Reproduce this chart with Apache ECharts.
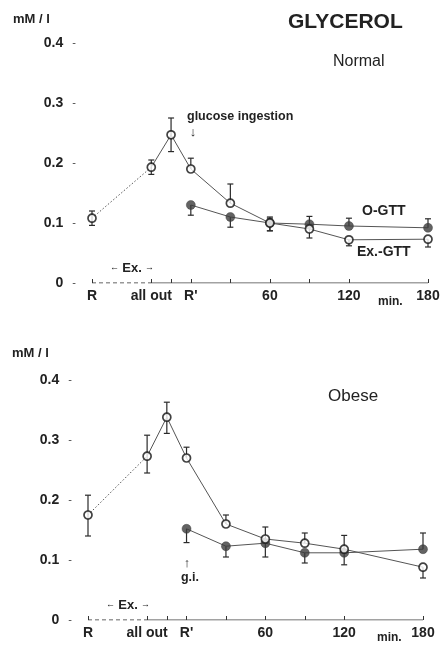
<!DOCTYPE html>
<html>
<head>
<meta charset="utf-8">
<script src="https://cdn.jsdelivr.net/npm/echarts@6/dist/echarts.min.js"></script>
<style>
html,body{margin:0;padding:0;background:#fff;}
#c{width:444px;height:646px;}
</style>
</head>
<body>
<div id="c"></div>
<script>
// ---- data ----
// time points in minutes relative to R' (R, all out, peak, R', 30, 60, 90, 120, 180)
const exMinutes = [-75, -30, -15, 0, 30, 60, 90, 120, 180];
const gttMinutes = [0, 30, 60, 90, 120, 180];

// Normal: Ex.-GTT (open circles)
const normalEx      = [0.108, 0.193, 0.247, 0.190, 0.133, 0.100, 0.090, 0.072, 0.073];
const normalExUp    = [0.012, 0.012, 0.028, 0.018, 0.032, 0.010, 0.000, 0.000, 0.000];
const normalExDown  = [0.012, 0.012, 0.028, 0.000, 0.000, 0.013, 0.015, 0.010, 0.013];
// Normal: O-GTT (filled circles)
const normalO       = [0.130, 0.110, 0.100, 0.098, 0.095, 0.092];
const normalOUp     = [0.000, 0.000, 0.008, 0.013, 0.013, 0.015];
const normalODown   = [0.017, 0.017, 0.013, 0.000, 0.000, 0.000];

// Obese: Ex.-GTT (open circles)
const obeseEx       = [0.175, 0.273, 0.338, 0.270, 0.160, 0.135, 0.128, 0.118, 0.088];
const obeseExUp     = [0.033, 0.035, 0.025, 0.018, 0.015, 0.020, 0.017, 0.023, 0.000];
const obeseExDown   = [0.035, 0.028, 0.027, 0.000, 0.000, 0.000, 0.000, 0.000, 0.018];
// Obese: O-GTT (filled circles)
const obeseO        = [0.152, 0.123, 0.128, 0.112, 0.112, 0.118];
const obeseOUp      = [0.000, 0.000, 0.000, 0.000, 0.000, 0.027];
const obeseODown    = [0.023, 0.018, 0.023, 0.017, 0.020, 0.000];

// axis ticks / labels
const xTickValues  = [-75, -30, -15, 0, 30, 60, 90, 120, 180];
const xLabelValues = [-75, -30, 0, 60, 120, 180];
const xLabelTexts  = ['R', 'all out', "R'", '60', '120', '180'];
const exercisePhase = [-75, -30];   // dashed part of the time axis
const postPhase     = [-30, 180];   // solid part of the time axis
const yTicks = [0, 0.1, 0.2, 0.3, 0.4];

// ---- helpers ----
const FONT = '"Liberation Sans", Arial, sans-serif';
const zip = (xs, ys) => xs.map((x, i) => [x, ys[i]]);
const errData = (xs, ys, up, down) => xs.map((x, i) => [x, ys[i], up[i], down[i]]);

function errRender(params, api) {
  const x = api.value(0), y = api.value(1), up = api.value(2), dn = api.value(3);
  const pTop = api.coord([x, y + up]);
  const pBot = api.coord([x, y - dn]);
  const cap = 3;
  const st = {stroke: '#2a2a2a', lineWidth: 1.2};
  const children = [{type: 'line', shape: {x1: pTop[0], y1: pTop[1], x2: pBot[0], y2: pBot[1]}, style: st}];
  if (up > 0) children.push({type: 'line', shape: {x1: pTop[0]-cap, y1: pTop[1], x2: pTop[0]+cap, y2: pTop[1]}, style: st});
  if (dn > 0) children.push({type: 'line', shape: {x1: pBot[0]-cap, y1: pBot[1], x2: pBot[0]+cap, y2: pBot[1]}, style: st});
  return {type: 'group', children};
}

function panelSeries(idx, ex, exUp, exDown, o, oUp, oDown) {
  const ax = {xAxisIndex: idx, yAxisIndex: idx};
  const exPts = zip(exMinutes, ex);
  return [
    Object.assign({type: 'line', data: exercisePhase.map(v => [v, 0]), symbol: 'none', silent: true,
      lineStyle: {color: '#333', width: 1.2, type: [4, 3]}}, ax),
    Object.assign({type: 'line', data: postPhase.map(v => [v, 0]), symbol: 'none', silent: true,
      lineStyle: {color: '#444', width: 1}}, ax),
    Object.assign({type: 'line', data: exPts.slice(0, 2), symbol: 'none',
      lineStyle: {color: '#555', width: 1, type: [1.5, 2]}}, ax),
    Object.assign({type: 'line', data: exPts.slice(1), symbol: 'none',
      lineStyle: {color: '#555', width: 1}}, ax),
    Object.assign({type: 'line', data: zip(gttMinutes, o), symbol: 'none',
      lineStyle: {color: '#555', width: 1}}, ax),
    Object.assign({type: 'custom', renderItem: errRender, data: errData(gttMinutes, o, oUp, oDown), z: 3}, ax),
    Object.assign({type: 'custom', renderItem: errRender, data: errData(exMinutes, ex, exUp, exDown), z: 3}, ax),
    Object.assign({type: 'scatter', data: zip(gttMinutes, o), symbol: 'circle', symbolSize: 9, z: 4,
      itemStyle: {color: '#3c3c3c', borderColor: '#333', borderWidth: 0.5}}, ax),
    Object.assign({type: 'scatter', data: exPts, symbol: 'circle', symbolSize: 8, z: 5,
      itemStyle: {color: '#fff', borderColor: '#111', borderWidth: 1.7}}, ax)
  ];
}

function xAxisCfg(idx) {
  return {
    type: 'value', gridIndex: idx, min: -75, max: 180,
    axisLine: {show: false},
    splitLine: {show: false},
    axisTick: {show: true, inside: true, length: 4, customValues: xTickValues, lineStyle: {color: '#333', width: 1}},
    axisLabel: {
      show: true, customValues: xLabelValues, margin: 6,
      formatter: v => xLabelTexts[xLabelValues.indexOf(v)] || '',
      fontFamily: FONT, fontWeight: 'bold', fontSize: 14, color: '#222'
    }
  };
}
function yAxisCfg(idx) {
  return {
    type: 'value', gridIndex: idx, min: yTicks[0], max: yTicks[yTicks.length-1], interval: 0.1,
    axisLine: {show: false}, axisTick: {show: false}, splitLine: {show: false},
    axisLabel: {
      margin: 16,
      formatter: v => '{n|' + (v === 0 ? '0' : v.toFixed(1)) + '}{d|   -}',
      rich: {
        n: {fontFamily: FONT, fontWeight: 'bold', fontSize: 14, color: '#222'},
        d: {fontFamily: FONT, fontWeight: 'normal', fontSize: 11, color: '#444'}
      }
    }
  };
}

function txt(x, y, text, size, weight, align) {
  return {type: 'text', x: x, y: y, silent: true,
    style: {text: text, fontFamily: FONT, fontSize: size, fontWeight: weight || 'bold',
      fill: '#222', align: align || 'left', verticalAlign: 'middle'}};
}
function exLabel(x, y) {
  return {type: 'text', x: x, y: y, silent: true,
    style: {text: '{a|←} {e|Ex.} {a|→}', align: 'center', verticalAlign: 'middle',
      rich: {
        a: {fontFamily: FONT, fontSize: 9, fontWeight: 'bold', fill: '#222'},
        e: {fontFamily: FONT, fontSize: 13, fontWeight: 'bold', fill: '#222'}
      }}};
}

const chart = echarts.init(document.getElementById('c'), null, {renderer: 'canvas'});
chart.setOption({
  backgroundColor: '#fff',
  animation: false,
  grid: [
    {left: 92, right: 16, top: 43, bottom: 363},
    {left: 88, right: 21, top: 380, bottom: 26}
  ],
  xAxis: [xAxisCfg(0), xAxisCfg(1)],
  yAxis: [yAxisCfg(0), yAxisCfg(1)],
  series: [].concat(
    panelSeries(0, normalEx, normalExUp, normalExDown, normalO, normalOUp, normalODown),
    panelSeries(1, obeseEx, obeseExUp, obeseExDown, obeseO, obeseOUp, obeseODown)
  ),
  graphic: [
    txt(13, 19, 'mM / l', 13),
    txt(12, 353, 'mM / l', 13),
    txt(288, 22, 'GLYCEROL', 21),
    txt(333, 62, 'Normal', 16, 'normal'),
    txt(328, 396, 'Obese', 17, 'normal'),
    txt(187, 117, 'glucose ingestion', 12.5),
    txt(193, 132, '↓', 13, 'bold', 'center'),
    txt(362, 211, 'O-GTT', 14),
    txt(357, 252, 'Ex.-GTT', 14),
    exLabel(132, 268),
    exLabel(128, 605),
    txt(187, 563, '↑', 13, 'bold', 'center'),
    txt(190, 578, 'g.i.', 12.5, 'bold', 'center'),
    txt(378, 302, 'min.', 12),
    txt(377, 638, 'min.', 12)
  ]
});
</script>
</body>
</html>
